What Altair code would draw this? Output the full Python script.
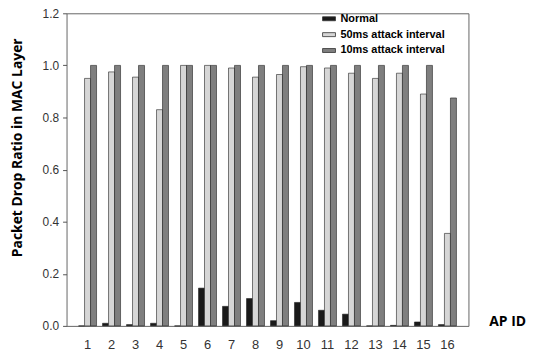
import altair as alt
import pandas as pd

ap_ids = [str(i) for i in range(1, 17)]
series = ["Normal", "50ms attack interval", "10ms attack interval"]
normal = [0.0, 0.01, 0.005, 0.01, 0.0, 0.145, 0.075, 0.105, 0.02, 0.09, 0.06, 0.045, 0.0, 0.002, 0.015, 0.005]
ms50 = [0.95, 0.975, 0.955, 0.83, 1.0, 1.0, 0.99, 0.955, 0.965, 0.995, 0.99, 0.97, 0.95, 0.97, 0.89, 0.355]
ms10 = [1.0, 1.0, 1.0, 1.0, 1.0, 1.0, 1.0, 1.0, 1.0, 1.0, 1.0, 1.0, 1.0, 1.0, 1.0, 0.875]
colors = ["#1a1a1a", "#d6d6d6", "#7f7f7f"]

rows = []
for vals, s in zip([normal, ms50, ms10], series):
    for a, v in zip(ap_ids, vals):
        rows.append({"ap": a, "series": s, "value": v})
df = pd.DataFrame(rows)

rect = "M-1.3,-0.4L1.3,-0.4L1.3,0.4L-1.3,0.4Z"

chart = alt.Chart(df).mark_bar(stroke="#222", strokeWidth=0.6).encode(
    x=alt.X("ap:N", sort=ap_ids,
            scale=alt.Scale(paddingInner=0.25, paddingOuter=0.5),
            axis=alt.Axis(title="AP ID", labelAngle=0, ticks=False, domain=False,
                          labelPadding=13, labelFontSize=13, labelColor="#333",
                          labelFont="Liberation Sans",
                          titleX=444, titleY=-4, titleBaseline="middle",
                          titleFontSize=14, titleFont="Open Sans",
                          titleFontWeight="bold", titleColor="#000")),
    xOffset=alt.XOffset("series:N", sort=series),
    y=alt.Y("value:Q",
            scale=alt.Scale(domain=[0, 1.2], nice=False),
            axis=alt.Axis(title="Packet Drop Ratio in MAC Layer",
                          values=[0, 0.2, 0.4, 0.6, 0.8, 1.0, 1.2], format=".1f",
                          grid=False, domain=False, tickSize=4, tickColor="#555",
                          labelFontSize=12, labelColor="#333", labelFont="Liberation Sans",
                          labelPadding=4,
                          titleFontSize=14, titleFont="Open Sans",
                          titleFontWeight="bold", titleColor="#000",
                          titleBaseline="middle", titleAngle=270,
                          titleX=-49, titleY=135)),
    color=alt.Color("series:N", sort=series,
                    scale=alt.Scale(domain=series, range=colors),
                    legend=alt.Legend(title=None, orient="none", legendX=259, legendY=0,
                                      symbolType=rect, symbolSize=100,
                                      symbolStrokeColor="#333", symbolStrokeWidth=0.8,
                                      symbolOpacity=1,
                                      labelFontSize=11, labelFont="Liberation Sans",
                                      labelFontWeight="bold", labelColor="#000",
                                      rowPadding=4, labelOffset=6)),
).properties(
    width=405, height=315,
    autosize=alt.AutoSizeParams(type="none"),
    padding={"left": 59, "top": 4, "right": 58, "bottom": 27},
).configure_view(stroke="#666", strokeWidth=1)

chart.save("out.html", embed_options={"renderer": "svg", "actions": False})
